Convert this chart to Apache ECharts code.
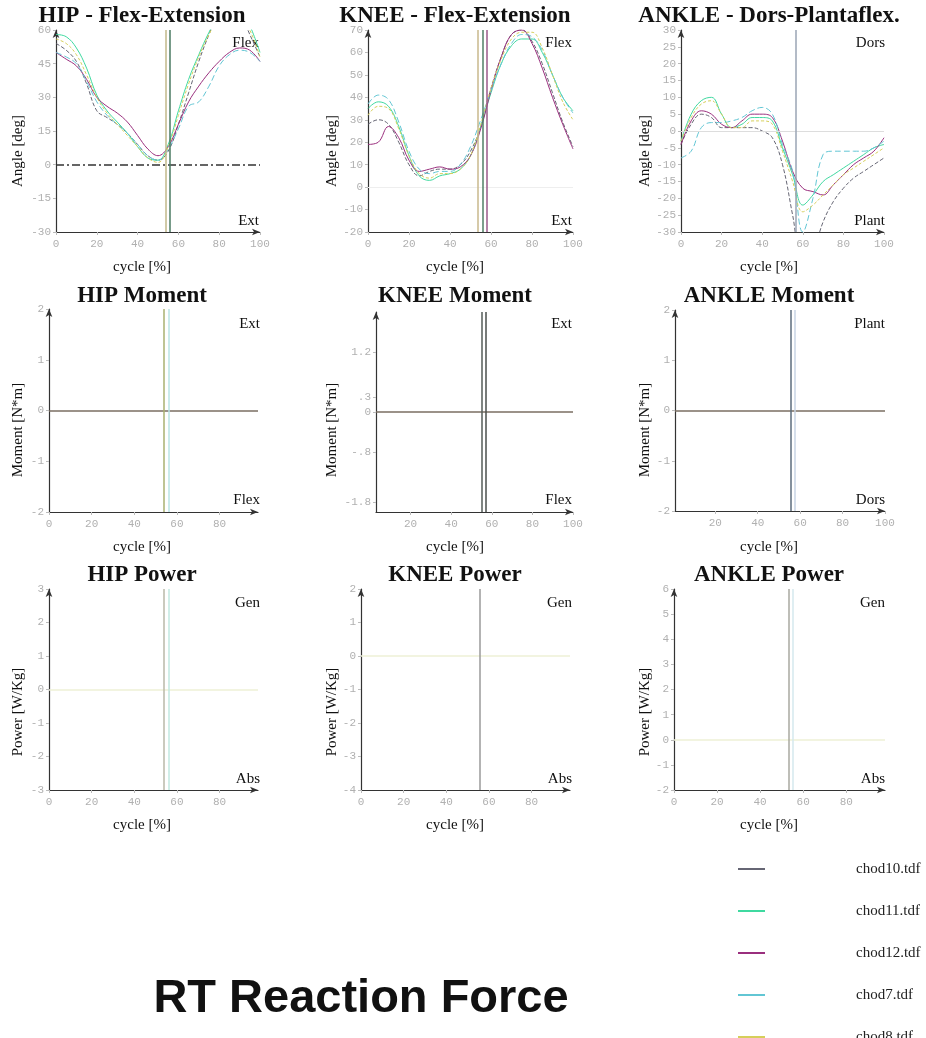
<!DOCTYPE html>
<html>
<head>
<meta charset="utf-8">
<script src="https://cdn.jsdelivr.net/npm/echarts@6/dist/echarts.min.js"></script>
<style>
html, body { margin: 0; padding: 0; background: #fff; }
#main { width: 926px; height: 1038px; }
</style>
</head>
<body>
<div id="main"></div>
<script>
// trials shown in the legend
var trials = ['chod10.tdf', 'chod11.tdf', 'chod12.tdf', 'chod7.tdf', 'chod8.tdf'];
var trialColors = ['#666674', '#3fd9a0', '#9a2f7e', '#62c6d4', '#d6cf5a'];
var trialDash = [[4, 2], 'solid', 'solid', [6, 3], [3, 2]];

// gait cycle [%]
var cycle = [0, 5, 10, 15, 20, 25, 30, 35, 40, 45, 50, 55, 60, 65, 70, 75, 80, 85, 90, 95, 100];

// HIP flex-extension [deg]
var hip10 = [54, 51, 46, 36, 24, 21, 18, 14, 9, 4, 2, 6, 18, 32, 46, 58, 68, 72, 68, 58, 48];
var hip11 = [58, 57, 52, 43, 31, 24, 19, 14, 8, 3, 2, 9, 24, 38, 49, 59, 67, 72, 70, 62, 50];
var hip12 = [50, 47, 44, 38, 30, 26, 23, 19, 13, 7, 4, 8, 18, 28, 35, 41, 46, 50, 52, 51, 46];
var hip7 = [50, 48, 45, 37, 28, 22, 18, 14, 9, 4, 2, 7, 16, 26, 28, 35, 44, 49, 51, 50, 46];
var hip8 = [56, 54, 49, 40, 30, 23, 18, 13, 8, 3, 1, 8, 22, 36, 48, 58, 66, 70, 67, 60, 48];

// KNEE flex-extension [deg]
var knee10 = [28, 30, 28, 20, 10, 5, 7, 8, 8, 10, 16, 27, 44, 58, 68, 70, 65, 55, 42, 29, 18];
var knee11 = [35, 38, 36, 27, 14, 5, 3, 5, 6, 8, 14, 27, 42, 55, 63, 66, 66, 60, 50, 40, 34];
var knee12 = [19, 20, 27, 22, 12, 7, 8, 9, 8, 9, 14, 26, 43, 58, 68, 70, 64, 53, 40, 28, 17];
var knee7 = [37, 41, 39, 29, 16, 8, 6, 7, 7, 10, 18, 30, 43, 55, 64, 68, 67, 61, 50, 40, 33];
var knee8 = [32, 36, 35, 26, 14, 6, 4, 6, 6, 8, 14, 28, 44, 57, 66, 69, 69, 62, 50, 38, 30];

// ANKLE dors-plantaflexion [deg]
var ankle10 = [-4, 2, 5, 4, 1, 1, 1, 1, 0, -2, -10, -25, -40, -36, -27, -21, -17, -14, -12, -10, -8];
var ankle11 = [-3, 5, 9, 10, 5, 1, 2, 4, 4, 3, -5, -13, -22, -19, -15, -13, -11, -9, -7, -5, -4];
var ankle12 = [-4, 3, 6, 5, 2, 1, 3, 5, 5, 4, -3, -12, -17, -18, -19, -16, -13, -10, -8, -6, -2];
var ankle7 = [-8, -6, 1, 2.5, 2.5, 3, 4, 6, 7, 5, -4, -12, -30, -20, -7, -6, -6, -6, -6, -5, -3];
var ankle8 = [-3, 4, 8, 9, 5, 1, 1, 3, 3, 2, -6, -15, -24, -22, -19, -16, -13, -11, -9, -7, -5];

// toe-off markers [% cycle] and their colours, per panel
var toeHipAngle = [54, 56], toeHipAngleCol = ['#c2b98a', '#4a7a62'];
var toeKneeAngle = [53.4, 55.9, 57.8], toeKneeAngleCol = ['#c9b98c', '#4f7f66', '#9a5a8a'];
var toeAnkleAngle = [56.6], toeAnkleAngleCol = ['#9aa4b4'];
var toeHipMom = [53.8, 56.1], toeHipMomCol = ['#a8b070', '#b8e4e4'];
var toeKneeMom = [55.2, 57.1], toeKneeMomCol = ['#555c58', '#4a4f4c'];
var toeAnkleMom = [55.8, 57.6], toeAnkleMomCol = ['#5c6c7c', '#c8d4e4'];
var toeHipPow = [53.8, 56.1], toeHipPowCol = ['#b8b8a8', '#c0e8e0'];
var toeKneePow = [55.7], toeKneePowCol = ['#9a9a9a'];
var toeAnklePow = [53.5, 55.3], toeAnklePowCol = ['#a8a8a0', '#d4e8ee'];

// tick labels
var xTicksFull = [0, 20, 40, 60, 80, 100];
var xTicksNo100 = [0, 20, 40, 60, 80];
var xTicksNo0 = [20, 40, 60, 80, 100];
var kneeMomTicks = [1.2, 0.3, 0, -0.8, -1.8];

var grids = [
  { left: 56, top: 30, width: 204, height: 202 },
  { left: 368, top: 30, width: 205, height: 202 },
  { left: 681, top: 30, width: 203, height: 202 },
  { left: 49, top: 309, width: 209, height: 203 },
  { left: 376, top: 312, width: 197, height: 200 },
  { left: 675, top: 310, width: 210, height: 201 },
  { left: 49, top: 589, width: 209, height: 201 },
  { left: 361, top: 589, width: 209, height: 201 },
  { left: 674, top: 589, width: 211, height: 201 }
];
grids.forEach(function (g) { g.outerBoundsMode = 'none'; });

var tickLabel = { color: '#b0b0b0', fontFamily: 'Liberation Mono', fontSize: 11 };

function xAxisOf(gi, min, max, ticks) {
  return {
    type: 'value', gridIndex: gi, min: min, max: max,
    axisLine: { show: true, onZero: false, symbol: ['none', 'arrow'], symbolSize: [5, 8], lineStyle: { color: '#333', width: 1.2 } },
    axisTick: { show: true, length: 3, customValues: ticks, lineStyle: { color: '#bbb' } },
    axisLabel: Object.assign({ customValues: ticks, margin: 7 }, tickLabel),
    splitLine: { show: false }
  };
}
function yAxisOf(gi, min, max, interval, custom, fmt) {
  var ax = {
    type: 'value', gridIndex: gi, min: min, max: max, interval: interval,
    axisLine: { show: true, onZero: false, symbol: ['none', 'arrow'], symbolSize: [5, 8], lineStyle: { color: '#333', width: 1.2 } },
    axisTick: { show: true, length: 3, lineStyle: { color: '#bbb' } },
    axisLabel: Object.assign({ margin: 5 }, tickLabel),
    splitLine: { show: false }
  };
  if (custom) { ax.axisTick.customValues = custom; ax.axisLabel.customValues = custom; }
  if (fmt) ax.axisLabel.formatter = fmt;
  return ax;
}

var xAxes = [
  xAxisOf(0, 0, 100, xTicksFull), xAxisOf(1, 0, 100, xTicksFull), xAxisOf(2, 0, 100, xTicksFull),
  xAxisOf(3, 0, 98, xTicksNo100), xAxisOf(4, 3, 100, xTicksNo0), xAxisOf(5, 1, 100, xTicksNo0),
  xAxisOf(6, 0, 98, xTicksNo100), xAxisOf(7, 0, 98, xTicksNo100), xAxisOf(8, 0, 98, xTicksNo100)
];
var yAxes = [
  yAxisOf(0, -30, 60, 15), yAxisOf(1, -20, 70, 10), yAxisOf(2, -30, 30, 5),
  yAxisOf(3, -2, 2, 1),
  yAxisOf(4, -2, 2, null, kneeMomTicks, function (v) { return String(v).replace(/^(-?)0\./, '$1.'); }),
  yAxisOf(5, -2, 2, 1),
  yAxisOf(6, -3, 3, 1), yAxisOf(7, -4, 2, 1), yAxisOf(8, -2, 6, 1)
];

var series = [];
function addCurves(gi, arrays) {
  arrays.forEach(function (arr, t) {
    series.push({
      type: 'line', name: trials[t], xAxisIndex: gi, yAxisIndex: gi,
      data: cycle.map(function (x, i) { return [x, arr[i]]; }),
      smooth: 0.4, symbol: 'none', showSymbol: false, clip: true, silent: true,
      lineStyle: { color: trialColors[t], width: 1, type: trialDash[t] },
      itemStyle: { color: trialColors[t] }
    });
  });
}
function addMarks(gi, toe, cols, zeroStyle) {
  var data = toe.map(function (v, i) {
    return { xAxis: v, lineStyle: { color: cols[i], width: 1.5, type: 'solid' } };
  });
  if (zeroStyle) data.unshift({ yAxis: 0, lineStyle: zeroStyle });
  series.push({
    type: 'line', name: 'marks' + gi, xAxisIndex: gi, yAxisIndex: gi, data: [],
    markLine: { silent: true, symbol: 'none', animation: false, label: { show: false }, data: data }
  });
}

addCurves(0, [hip10, hip11, hip12, hip7, hip8]);
addCurves(1, [knee10, knee11, knee12, knee7, knee8]);
addCurves(2, [ankle10, ankle11, ankle12, ankle7, ankle8]);

var momZero = { color: '#7a6e62', width: 1.5, type: 'solid' };
var powZero = { color: '#eef0d6', width: 1.5, type: 'solid' };
addMarks(0, toeHipAngle, toeHipAngleCol, { color: '#333', width: 1.5, type: [8, 3, 2, 3] });
addMarks(1, toeKneeAngle, toeKneeAngleCol, { color: '#eeeeee', width: 1, type: 'solid' });
addMarks(2, toeAnkleAngle, toeAnkleAngleCol, { color: '#dddddd', width: 1, type: 'solid' });
addMarks(3, toeHipMom, toeHipMomCol, momZero);
addMarks(4, toeKneeMom, toeKneeMomCol, momZero);
addMarks(5, toeAnkleMom, toeAnkleMomCol, momZero);
addMarks(6, toeHipPow, toeHipPowCol, powZero);
addMarks(7, toeKneePow, toeKneePowCol, powZero);
addMarks(8, toeAnklePow, toeAnklePowCol, powZero);

// free text: panel titles, axis names, direction hints
var graphics = [];
function txt(x, y, s, font, align, rot) {
  graphics.push({
    type: 'text', x: x, y: y, rotation: rot || 0, silent: true,
    style: { text: s, font: font, fill: '#111', align: align, textAlign: align, verticalAlign: 'middle', textVerticalAlign: 'middle' }
  });
}
var titleFont = 'bold 23px "Liberation Serif"';
var nameFont = '15px "Liberation Serif"';
var colX = [142, 455, 769];
var titles = [
  ['HIP - Flex-Extension', 'KNEE - Flex-Extension', 'ANKLE - Dors-Plantaflex.'],
  ['HIP Moment', 'KNEE Moment', 'ANKLE Moment'],
  ['HIP Power', 'KNEE Power', 'ANKLE Power']
];
var titleY = [16, 296, 575];
var xNameY = [267, 547, 825];
var yNames = ['Angle [deg]', 'Moment [N*m]', 'Power [W/Kg]'];
var yNameX = [18, 332, 645];
var yNameY = [151, 430, 712];
var hintTop = [['Flex', 'Flex', 'Dors'], ['Ext', 'Ext', 'Plant'], ['Gen', 'Gen', 'Gen']];
var hintBot = [['Ext', 'Ext', 'Plant'], ['Flex', 'Flex', 'Dors'], ['Abs', 'Abs', 'Abs']];
var hintRight = [[259, 572, 885], [260, 572, 885], [260, 572, 885]];
var hintTopY = [43, 324, 603];
var hintBotY = [221, 500, 779];

for (var r = 0; r < 3; r++) {
  for (var c = 0; c < 3; c++) {
    txt(colX[c], titleY[r], titles[r][c], titleFont, 'center');
    txt(colX[c], xNameY[r], 'cycle [%]', nameFont, 'center');
    txt(yNameX[c], yNameY[r], yNames[r], nameFont, 'center', Math.PI / 2);
    txt(hintRight[r][c], hintTopY[r], hintTop[r][c], nameFont, 'right');
    txt(hintRight[r][c], hintBotY[r], hintBot[r][c], nameFont, 'right');
  }
}
txt(361, 999, 'RT Reaction Force', 'bold 47px "Liberation Sans"', 'center');

var chart = echarts.init(document.getElementById('main'), null, { renderer: 'canvas' });
chart.setOption({
  animation: false,
  backgroundColor: '#fff',
  grid: grids,
  xAxis: xAxes,
  yAxis: yAxes,
  legend: {
    data: trials, orient: 'vertical', left: 733, top: 856, height: 300,
    icon: 'rect', itemWidth: 27, itemHeight: 2, itemGap: 26, selectedMode: false,
    textStyle: { fontFamily: 'Liberation Serif', fontSize: 15, lineHeight: 16, color: '#222', padding: [0, 0, 0, 86] }
  },
  graphic: graphics,
  series: series
});
</script>
</body>
</html>
